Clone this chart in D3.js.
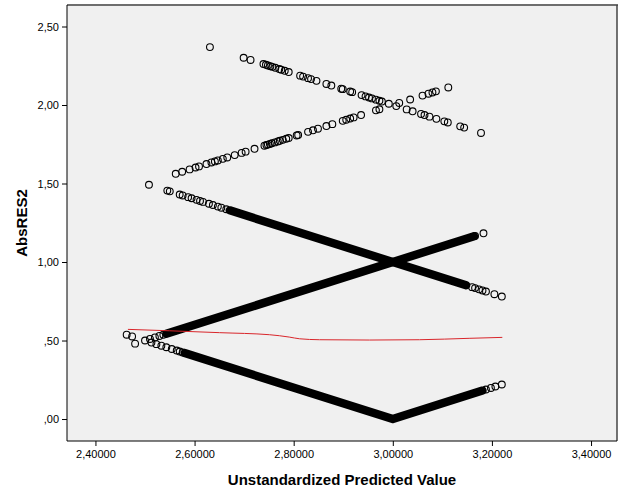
<!DOCTYPE html>
<html><head><meta charset="utf-8">
<script src="https://cdn.jsdelivr.net/npm/d3@7"></script>
<style>
body{margin:0;background:#fff;}
text{font-family:"Liberation Sans",Arial,sans-serif;}
</style></head>
<body><svg id="chart" width="626" height="501"></svg>
<script>
// ---- data: [predicted value, AbsRES2] ----
const xTicks = [2.4, 2.6, 2.8, 3.0, 3.2, 3.4];
const yTicks = [0, 0.5, 1.0, 1.5, 2.0, 2.5];
const xTitle = "Unstandardized Predicted Value";
const yTitle = "AbsRES2";

const pointsGroup5 = [[2.631,2.369],[2.699,2.301],[2.713,2.287],[2.739,2.261],[2.744,2.256],[2.748,2.252],[2.753,2.247],
 [2.757,2.243],[2.763,2.237],[2.771,2.229],[2.775,2.225],[2.782,2.218],[2.790,2.210],[2.813,2.187],[2.819,2.181],[2.829,2.171],
 [2.835,2.165],[2.846,2.154],[2.866,2.134],[2.876,2.124],[2.896,2.104],[2.899,2.101],[2.914,2.086],[2.918,2.082],[2.937,2.063],
 [2.945,2.055],[2.952,2.048],[2.958,2.042],[2.966,2.034],[2.973,2.027],[2.978,2.022],[2.992,2.008],[3.007,1.993],[3.028,1.972],
 [3.040,1.960],[3.057,1.943],[3.064,1.936],[3.074,1.926],[3.088,1.912],[3.104,1.896],[3.111,1.889],[3.136,1.864],[3.144,1.856],
 [3.178,1.822]];
const pointsGroup1 = [[2.562,1.562],[2.575,1.575],[2.590,1.590],[2.602,1.602],[2.609,1.609],[2.624,1.624],[2.634,1.634],
 [2.641,1.641],[2.647,1.647],[2.657,1.657],[2.666,1.666],[2.681,1.681],[2.695,1.695],[2.703,1.703],[2.721,1.721],[2.741,1.741],
 [2.745,1.745],[2.748,1.748],[2.752,1.752],[2.756,1.756],[2.762,1.762],[2.768,1.768],[2.772,1.772],[2.778,1.778],[2.785,1.785],
 [2.790,1.790],[2.806,1.806],[2.809,1.809],[2.829,1.829],[2.839,1.839],[2.849,1.849],[2.866,1.866],[2.878,1.878],[2.899,1.899],
 [2.906,1.906],[2.914,1.914],[2.921,1.921],[2.936,1.936],[2.966,1.966],[2.973,1.973],[3.013,2.013],[3.035,2.035],[3.060,2.060],
 [3.072,2.072],[3.080,2.080],[3.087,2.087],[3.112,2.112]];
const pointsGroup4 = [[2.508,1.492],[2.545,1.455],[2.550,1.450],[2.570,1.430],[2.576,1.424],[2.587,1.413],[2.594,1.406],
 [2.604,1.396],[2.611,1.389],[2.617,1.383],[2.629,1.371],[2.637,1.363],[2.647,1.353],[2.654,1.346],[2.664,1.336],
 [3.160,0.840],[3.166,0.834],[3.174,0.826],[3.181,0.819],[3.188,0.812],[3.205,0.795],[3.220,0.780]];
const pointsGroup2 = [[2.480,0.480],[2.500,0.500],[2.510,0.510],[2.520,0.520],[2.529,0.529],[2.537,0.537],
 [3.166,1.166],[3.183,1.183]];
const pointsGroup3 = [[2.463,0.537],[2.474,0.526],[2.513,0.487],[2.523,0.477],[2.533,0.467],[2.543,0.457],[2.554,0.446],
 [2.564,0.436],[2.570,0.430],[2.576,0.424],[3.188,0.188],[3.198,0.198],[3.207,0.207],[3.220,0.220]];
// runs of overlapping points (so dense they merge into solid bands)
const denseRun4 = [[2.671,1.329],[3.148,0.852]];
const denseRun2 = [[2.543,0.543],[3.164,1.164]];
const denseRun3 = [[2.580,0.420],[3.000,0.000],[3.181,0.181]];
// loess fit line
const fitLine = [[2.4655,0.571],[2.550,0.562],[2.6505,0.550],[2.751,0.537],[2.791,0.522],[2.812,0.511],[2.852,0.505],
 [2.953,0.503],[3.054,0.505],[3.154,0.514],[3.221,0.520]];

const svg = d3.select("#chart");
const L = 67, R = 617, T = 5, B = 441;
const x = d3.scaleLinear().domain([2.3426, 3.4524]).range([L, R]);
const y = d3.scaleLinear().domain([-0.140, 2.637]).range([B, T]);

svg.append("rect").attr("x", L).attr("y", T).attr("width", R - L).attr("height", B - T).attr("fill", "#f0f0f0");

const line = d3.line().x(d => x(d[0])).y(d => y(d[1]));
const g = svg.append("g");
[denseRun4, denseRun2, denseRun3].forEach(run => {
  g.append("path").attr("d", line(run)).attr("fill", "none").attr("stroke", "#000")
    .attr("stroke-width", 8.4).attr("stroke-linecap", "round").attr("stroke-linejoin", "round");
});
const allPts = [].concat(pointsGroup5, pointsGroup1, pointsGroup4, pointsGroup2, pointsGroup3);
g.selectAll("circle.pt").data(allPts).join("circle").attr("class", "pt")
  .attr("cx", d => x(d[0])).attr("cy", d => y(d[1])).attr("r", 3.4)
  .attr("fill", "none").attr("stroke", "#000").attr("stroke-width", 1.1);

svg.append("path").attr("d", d3.line().x(d => x(d[0])).y(d => y(d[1])).curve(d3.curveMonotoneX)(fitLine))
  .attr("fill", "none").attr("stroke", "#d9262b").attr("stroke-width", 1);

// frame
svg.append("line").attr("x1", L).attr("x2", R + 1).attr("y1", T).attr("y2", T).attr("stroke", "#6e6e6e").attr("stroke-width", 2);
svg.append("line").attr("x1", R).attr("x2", R).attr("y1", T).attr("y2", B).attr("stroke", "#444").attr("stroke-width", 1.5);

const fmtY = v => d3.format(".2f")(v).replace(/^0/, "").replace(".", ",");
const fmtX = v => d3.format(".5f")(v).replace(".", ",");

const xAxis = svg.append("g").attr("transform", `translate(0,${B})`)
  .call(d3.axisBottom(x).tickValues(xTicks).tickFormat(fmtX).tickSize(5).tickSizeOuter(0).tickPadding(4));
const yAxis = svg.append("g").attr("transform", `translate(${L},0)`)
  .call(d3.axisLeft(y).tickValues(yTicks).tickFormat(fmtY).tickSize(5).tickSizeOuter(0).tickPadding(3));
[xAxis, yAxis].forEach(a => {
  a.select(".domain").remove();
  a.selectAll("text").attr("font-size", 11).attr("fill", "#000").attr("font-family", "'Liberation Sans',Arial,sans-serif");
  a.selectAll("line").attr("stroke", "#000");
});
svg.append("line").attr("x1", L).attr("x2", L).attr("y1", T).attr("y2", B).attr("stroke", "#000");
svg.append("line").attr("x1", L).attr("x2", R).attr("y1", B).attr("y2", B).attr("stroke", "#000");

svg.append("text").attr("x", (L + R) / 2).attr("y", 485).attr("text-anchor", "middle")
  .attr("font-size", 15).attr("font-weight", "bold").text(xTitle);
svg.append("text").attr("transform", `translate(27,${(T + B) / 2}) rotate(-90)`).attr("text-anchor", "middle")
  .attr("font-size", 15).attr("font-weight", "bold").text(yTitle);
</script></body></html>
